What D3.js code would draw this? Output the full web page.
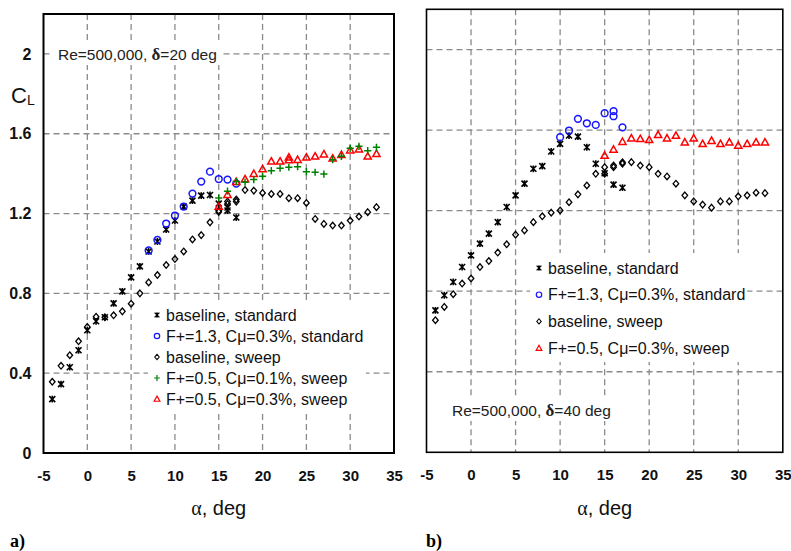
<!DOCTYPE html>
<html><head><meta charset="utf-8">
<script src="https://cdn.jsdelivr.net/npm/d3@7/dist/d3.min.js"></script>
<style>body{margin:0;background:#fff}svg{display:block}</style></head>
<body><svg id="c" width="791" height="551"></svg>
<script>
// ---------- data ----------
const xTickValues = [-5, 0, 5, 10, 15, 20, 25, 30, 35];
const xTickLabels = ["-5", "0", "5", "10", "15", "20", "25", "30", "35"];
const yTickValues = [0, 0.4, 0.8, 1.2, 1.6, 2];
const yTickLabels = ["0", "0.4", "0.8", "1.2", "1.6", "2"];

const legendLabelsA = ["baseline, standard", "F+=1.3, C\u03bc=0.3%, standard", "baseline, sweep", "F+=0.5, C\u03bc=0.1%, sweep", "F+=0.5, C\u03bc=0.3%, sweep"];
const legendLabelsB = ["baseline, standard", "F+=1.3, C\u03bc=0.3%, standard", "baseline, sweep", "F+=0.5, C\u03bc=0.3%, sweep"];

// panel a) delta = 20 deg  [alpha, CL]
const aBaselineStandard = [[-4,0.27],[-3,0.345],[-2,0.43],[-1,0.515],[0,0.615],[1,0.66],[2,0.68],[3,0.75],[4,0.81],[5,0.88],[6,0.935],[7,1.01],[8,1.06],[9,1.12],[10,1.165],[11,1.235],[12,1.265],[13,1.29],[14,1.293],[15,1.25],[16,1.215],[16,1.23],[17,1.18]];
const aFlow13Standard = [[7,1.015],[8,1.068],[9,1.15],[10,1.19],[11,1.235],[12,1.30],[13,1.36],[14,1.41],[15,1.373],[16,1.37],[17,1.35]];
const aBaselineSweep = [[-4,0.357],[-3,0.437],[-2,0.49],[-1,0.56],[0,0.632],[1,0.683],[2,0.68],[3,0.69],[4,0.71],[5,0.748],[6,0.80],[7,0.855],[8,0.892],[9,0.942],[10,0.972],[11,1.01],[12,1.07],[13,1.092],[14,1.156],[15,1.208],[15,1.215],[16,1.248],[16,1.26],[17,1.26],[17,1.27],[18,1.318],[19,1.315],[20,1.303],[21,1.298],[22,1.298],[23,1.277],[24,1.277],[25,1.253],[26,1.173],[27,1.148],[28,1.14],[29,1.14],[30,1.165],[31,1.185],[32,1.207],[33,1.232]];
const aFlow05C01Sweep = [[15,1.278],[16,1.312],[17,1.36],[18,1.357],[19,1.37],[20,1.387],[21,1.415],[22,1.427],[23,1.432],[24,1.435],[25,1.41],[26,1.407],[27,1.398],[28,1.47],[29,1.487],[30,1.527],[31,1.537],[32,1.515],[33,1.532]];
const aFlow05C03Sweep = [[15,1.235],[16,1.295],[17,1.36],[18,1.373],[19,1.40],[20,1.423],[21,1.462],[22,1.462],[23,1.482],[23,1.468],[24,1.47],[25,1.482],[26,1.487],[27,1.498],[28,1.477],[29,1.495],[30,1.518],[31,1.523],[32,1.487],[33,1.50]];

// panel b) delta = 40 deg
const bBaselineStandard = [[-4,0.705],[-3,0.78],[-2,0.846],[-1,0.92],[0,0.978],[1,1.036],[2,1.086],[3,1.143],[4,1.218],[5,1.276],[6,1.334],[7,1.408],[8,1.421],[9,1.494],[10,1.532],[11,1.573],[12,1.568],[13,1.515],[14,1.433],[15,1.386],[16,1.329],[17,1.314]];
const bFlow13Standard = [[10,1.565],[11,1.598],[12,1.656],[13,1.634],[14,1.626],[15,1.684],[16,1.694],[16,1.669],[17,1.614]];
const bBaselineSweep = [[-4,0.656],[-3,0.722],[-2,0.785],[-1,0.838],[0,0.863],[1,0.92],[2,0.95],[3,0.992],[4,1.033],[5,1.081],[6,1.102],[7,1.143],[8,1.172],[9,1.19],[10,1.201],[11,1.242],[12,1.281],[13,1.325],[14,1.383],[15,1.383],[15,1.416],[16,1.416],[16,1.424],[17,1.433],[17,1.44],[18,1.441],[19,1.424],[20,1.416],[21,1.383],[22,1.37],[23,1.334],[24,1.276],[25,1.246],[26,1.23],[27,1.215],[28,1.246],[29,1.246],[30,1.271],[31,1.276],[32,1.289],[33,1.287]];
const bFlow05C03Sweep = [[15,1.474],[16,1.504],[17,1.543],[18,1.56],[19,1.557],[20,1.552],[21,1.577],[22,1.56],[23,1.573],[24,1.54],[25,1.56],[26,1.532],[27,1.548],[28,1.532],[29,1.54],[30,1.524],[31,1.532],[32,1.54],[33,1.54]];

// ---------- drawing ----------
const svg = d3.select("#c");
const FONT = "'Liberation Sans', Arial, sans-serif";

const markerDefs = {
  star:    {path: "M-3,-3L3,3M-3,3L3,-3M0,-3.4V3.4", stroke: "#000", sw: 1.6},
  circle:  {path: d3.symbol(d3.symbolCircle, 36)(), stroke: "#1515ff", sw: 1.5},
  diamond: {path: "M0,-3.3L2.8,0L0,3.3L-2.8,0Z", stroke: "#000", sw: 1.3},
  plus:    {path: "M-3.6,0H3.6M0,-3.6V3.6", stroke: "#008000", sw: 1.5},
  tri:     {path: "M0,-3.6L3.6,2.8L-3.6,2.8Z", stroke: "#ff0000", sw: 1.5}
};

function drawMarkers(g, data, kind, x, y) {
  const m = markerDefs[kind];
  g.append("g").selectAll("path").data(data).join("path")
    .attr("d", m.path)
    .attr("transform", d => `translate(${x(d[0])},${y(d[1])})`)
    .attr("fill", "none").attr("stroke", m.stroke).attr("stroke-width", m.sw);
}

function panel(cfg) {
  const x = d3.scaleLinear().domain([-5, 35]).range([cfg.x0, cfg.x1]);
  const y = d3.scaleLinear().domain([0, 2.2]).range([cfg.y0, cfg.y1]);
  const g = svg.append("g");

  // grid
  const grid = g.append("g").attr("stroke", "#8a8a8a").attr("stroke-width", 1.3).attr("stroke-dasharray", "6,4");
  grid.selectAll("line.v").data(xTickValues.filter(v => v > -5 && v < 35)).join("line")
    .attr("x1", d => x(d)).attr("x2", d => x(d)).attr("y1", cfg.y1).attr("y2", cfg.y0);
  grid.selectAll("line.h").data(yTickValues.filter(v => v > 0)).join("line")
    .attr("y1", d => y(d)).attr("y2", d => y(d)).attr("x1", cfg.x0).attr("x2", cfg.x1);

  // x axis labels
  const xa = g.append("g").attr("transform", `translate(0,${cfg.y0})`)
    .call(d3.axisBottom(x).tickValues(xTickValues).tickSize(0).tickPadding(17).tickFormat((d, i) => xTickLabels[i]));
  xa.select(".domain").remove();
  xa.selectAll("text").attr("font-family", FONT).attr("font-size", 15).attr("font-weight", "bold").attr("fill", "#111");

  if (cfg.yLabels) {
    const ya = g.append("g").attr("transform", `translate(${cfg.x0},0)`)
      .call(d3.axisLeft(y).tickValues(yTickValues).tickSize(0).tickPadding(12).tickFormat((d, i) => yTickLabels[i]));
    ya.select(".domain").remove();
    ya.selectAll("text").attr("font-family", FONT).attr("font-size", 16).attr("font-weight", "bold").attr("fill", "#111");
  }

  // annotation
  const ann = g.append("g").attr("transform", `translate(${cfg.annX},${cfg.annY})`);
  ann.append("rect").attr("x", -8).attr("y", -11).attr("width", 172).attr("height", 22).attr("fill", "#fff");
  const at = ann.append("text").attr("font-family", FONT).attr("font-size", 15.5).attr("dominant-baseline", "central").attr("fill", "#222");
  at.append("tspan").text("Re=500,000, ");
  at.append("tspan").attr("font-weight", "bold").attr("font-family", "'Liberation Serif', serif").attr("font-size", 17).text("\u03b4");
  at.append("tspan").text(cfg.annText);

  // legend background
  const lg = g.append("g");
  lg.append("rect").attr("x", cfg.leg.bx).attr("y", cfg.leg.by).attr("width", cfg.leg.bw).attr("height", cfg.leg.bh).attr("fill", "#fff");

  // data markers
  cfg.series.forEach(s => drawMarkers(g, s.data, s.kind, x, y));

  // legend entries
  cfg.series.slice().sort((a, b) => a.order - b.order).forEach((s, i) => {
    const yy = cfg.leg.y + i * cfg.leg.dy;
    const m = markerDefs[s.kind];
    lg.append("path").attr("d", m.path).attr("transform", `translate(${cfg.leg.mx},${yy}) scale(0.8)`)
      .attr("fill", "none").attr("stroke", m.stroke).attr("stroke-width", m.sw);
    lg.append("text").attr("x", cfg.leg.tx).attr("y", yy).attr("dominant-baseline", "central")
      .attr("font-family", FONT).attr("font-size", 16).attr("fill", "#111").text(cfg.legendLabels[i]);
  });

  // frame
  g.append("rect").attr("x", cfg.x0).attr("y", cfg.y1).attr("width", cfg.x1 - cfg.x0).attr("height", cfg.y0 - cfg.y1)
    .attr("fill", "none").attr("stroke", "#000").attr("stroke-width", cfg.frameW);

  // axis title
  const t = g.append("text").attr("x", (cfg.x0 + cfg.x1) / 2).attr("y", 508).attr("text-anchor", "middle")
    .attr("dominant-baseline", "central").attr("font-size", 20).attr("fill", "#111");
  t.append("tspan").attr("font-family", "'Liberation Serif', serif").text("\u03b1");
  t.append("tspan").attr("font-family", "'Liberation Sans Narrow', " + FONT).text(", deg");

  // panel letter
  g.append("text").attr("x", cfg.letterX).attr("y", 541).attr("dominant-baseline", "central")
    .attr("font-family", "'Liberation Serif', serif").attr("font-weight", "bold").attr("font-size", 18).text(cfg.letter);
}

panel({
  x0: 43.5, x1: 394, y0: 453, y1: 14, frameW: 2, yLabels: true,
  annX: 58, annY: 54, annText: "=20 deg",
  leg: {bx: 148, by: 304, bw: 218, bh: 106, y: 315, dy: 21, mx: 157, tx: 166},
  legendLabels: legendLabelsA, letter: "a)", letterX: 10,
  series: [
    {data: aBaselineSweep, kind: "diamond", order: 2},
    {data: aBaselineStandard, kind: "star", order: 0},
    {data: aFlow13Standard, kind: "circle", order: 1},
    {data: aFlow05C03Sweep, kind: "tri", order: 4},
    {data: aFlow05C01Sweep, kind: "plus", order: 3}
  ]
});

panel({
  x0: 426.5, x1: 782.8, y0: 452.3, y1: 9.3, frameW: 1.6, yLabels: false,
  annX: 452, annY: 410, annText: "=40 deg",
  leg: {bx: 530, by: 253, bw: 217, bh: 109, y: 268, dy: 26.7, mx: 539, tx: 548},
  legendLabels: legendLabelsB, letter: "b)", letterX: 426,
  series: [
    {data: bBaselineSweep, kind: "diamond", order: 2},
    {data: bBaselineStandard, kind: "star", order: 0},
    {data: bFlow13Standard, kind: "circle", order: 1},
    {data: bFlow05C03Sweep, kind: "tri", order: 3}
  ]
});

// C_L label
const cl = svg.append("text").attr("x", 11).attr("y", 95).attr("dominant-baseline", "central")
  .attr("font-family", FONT).attr("font-size", 22).attr("fill", "#111");
cl.append("tspan").text("C");
cl.append("tspan").attr("font-size", 14).attr("dy", 5).text("L");
</script></body></html>
